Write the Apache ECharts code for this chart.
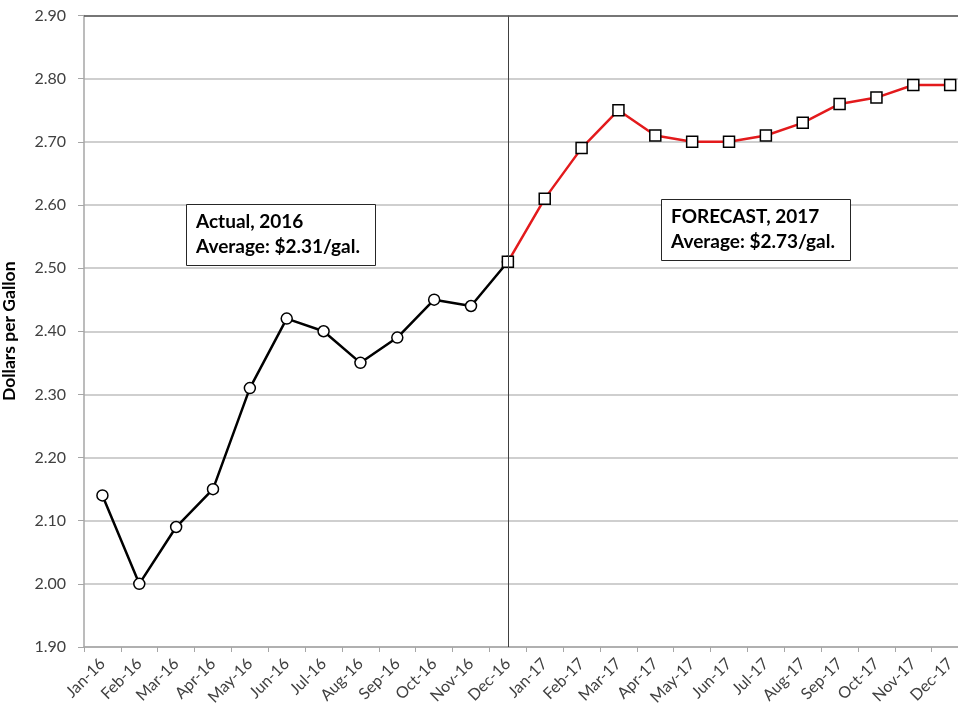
<!DOCTYPE html>
<html><head><meta charset="utf-8">
<script src="https://cdn.jsdelivr.net/npm/echarts@6/dist/echarts.min.js"></script>
<style>html,body{margin:0;padding:0;background:#fff}#c{width:958px;height:707px}</style>
</head><body><div id="c"></div>
<script>
const months = ['Jan-16','Feb-16','Mar-16','Apr-16','May-16','Jun-16','Jul-16','Aug-16','Sep-16','Oct-16','Nov-16','Dec-16',
  'Jan-17','Feb-17','Mar-17','Apr-17','May-17','Jun-17','Jul-17','Aug-17','Sep-17','Oct-17','Nov-17','Dec-17'];
const actual2016 = [2.14, 2.00, 2.09, 2.15, 2.31, 2.42, 2.40, 2.35, 2.39, 2.45, 2.44, 2.51];
const forecast2017 = [2.51, 2.61, 2.69, 2.75, 2.71, 2.70, 2.70, 2.71, 2.73, 2.76, 2.77, 2.79, 2.79]; // from Dec-16
const yTicks = [1.9, 2.9, 0.1]; // min, max, interval
const note1 = ['Actual, 2016', 'Average: $2.31/gal.'];
const note2 = ['FORECAST, 2017', 'Average: $2.73/gal.'];

const actualData = months.map((m, i) => i < actual2016.length ? actual2016[i] : null);
const forecastStart = actual2016.length - 1;
const forecastData = months.map((m, i) => i >= forecastStart ? forecast2017[i - forecastStart] : null);

const FONT = 'Lato';
const chart = echarts.init(document.getElementById('c'), null, {renderer: 'canvas'});
chart.setOption({
  animation: false,
  backgroundColor: '#fff',
  grid: {left: 84, top: 15.5, width: 884.6, height: 631.5, containLabel: false, outerBoundsMode: 'none'},
  xAxis: {
    type: 'category', data: months, boundaryGap: true,
    axisLine: {lineStyle: {color: '#a6a6a6', width: 1.5}},
    axisTick: {show: true, length: 5, lineStyle: {color: '#a6a6a6'}},
    axisLabel: {rotate: 45, color: '#404040', fontFamily: FONT, fontSize: 16, margin: 14, interval: 0},
    splitLine: {show: false}
  },
  yAxis: {
    type: 'value', min: yTicks[0], max: yTicks[1], interval: yTicks[2],
    name: 'Dollars per Gallon', nameLocation: 'middle', nameGap: 66, nameRotate: 90,
    nameTextStyle: {fontFamily: FONT, fontWeight: 'bold', fontSize: 17.5, color: '#000'},
    axisLine: {show: true, lineStyle: {color: '#a6a6a6', width: 1.5}},
    axisTick: {show: true, length: 6, lineStyle: {color: '#a6a6a6'}},
    axisLabel: {formatter: v => v.toFixed(2), color: '#404040', fontFamily: FONT, fontSize: 16, margin: 18},
    splitLine: {show: true, lineStyle: {color: '#bfbfbf', width: 1.5}}
  },
  series: [
    {
      type: 'line', data: actualData, connectNulls: false,
      symbol: 'circle', symbolSize: 11,
      lineStyle: {color: '#000', width: 2.5},
      itemStyle: {color: '#fff', borderColor: '#000', borderWidth: 1.5},
      z: 3,
      markLine: {
        silent: true, symbol: 'none', label: {show: false},
        lineStyle: {color: '#404040', width: 1, type: 'solid'},
        data: [{xAxis: 'Dec-16'}]
      }
    },
    {
      type: 'line', data: forecastData,
      symbol: 'rect', symbolSize: 11,
      lineStyle: {color: '#e31a1c', width: 2.5},
      itemStyle: {color: '#fff', borderColor: '#000', borderWidth: 1.5},
      z: 4
    },
    {
      type: 'line', data: months.map(() => null), silent: true,
      markLine: {
        silent: true, symbol: 'none', label: {show: false},
        lineStyle: {color: '#595959', width: 1.5, type: 'solid'},
        data: [{yAxis: yTicks[1]}]
      }
    }
  ],
  graphic: [
    {type: 'rect', shape: {x: 186.5, y: 204.5, width: 189, height: 61}, style: {fill: '#fff', stroke: '#262626', lineWidth: 1}, z: 10},
    {type: 'text', x: 196, y: 209, style: {text: note1.join('\n'), font: 'bold 19px Lato', fill: '#000', lineHeight: 25}, z: 11},
    {type: 'rect', shape: {x: 661.5, y: 199.5, width: 189, height: 61}, style: {fill: '#fff', stroke: '#262626', lineWidth: 1}, z: 10},
    {type: 'text', x: 671, y: 204, style: {text: note2.join('\n'), font: 'bold 19px Lato', fill: '#000', lineHeight: 25}, z: 11}
  ]
});
</script></body></html>
